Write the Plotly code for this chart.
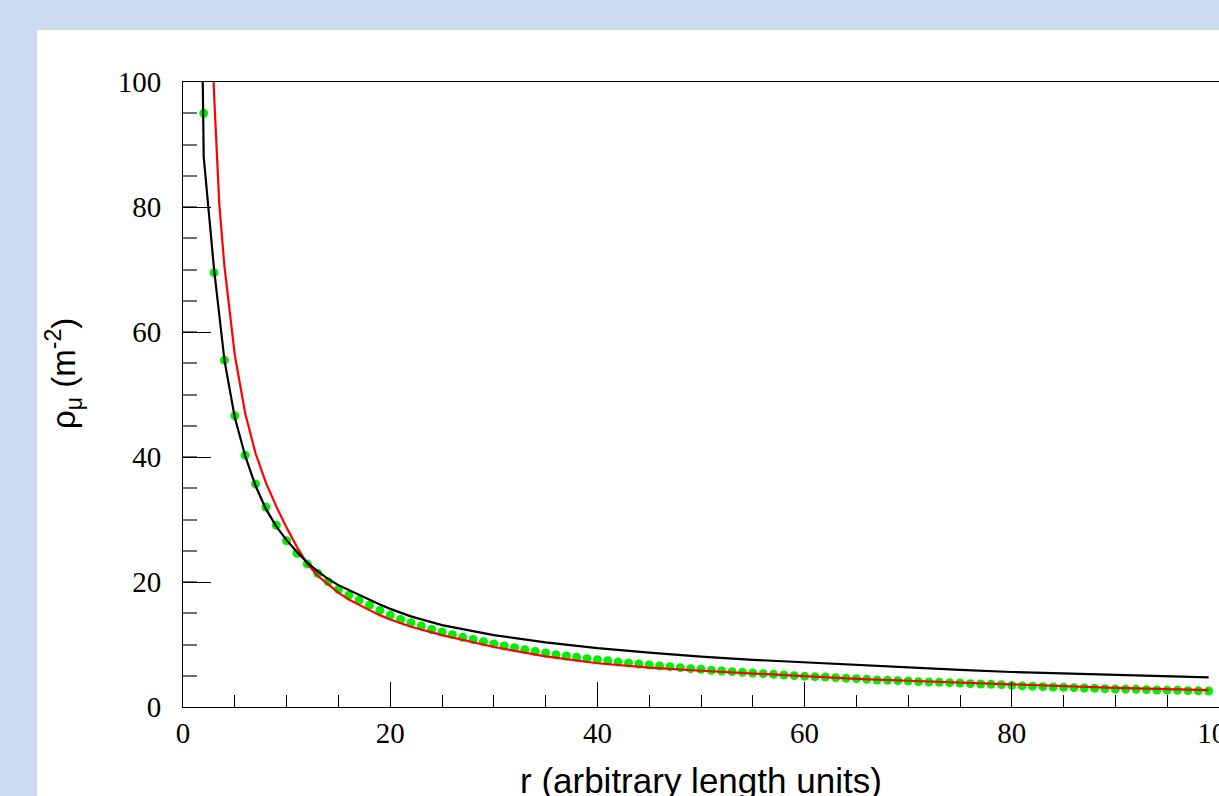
import plotly.graph_objects as go

# ---- data ----
dot_x = list(range(2, 100))
dot_y = [95.0, 69.5, 55.5, 46.6, 40.3, 35.7, 32.0, 29.1, 26.6, 24.6,
         22.9, 21.4, 20.05, 18.8, 17.9, 17.1, 16.3, 15.45, 14.7, 14.0,
         13.5, 12.96, 12.4, 12.0, 11.57, 11.15, 10.8, 10.45, 10.1, 9.76,
         9.49, 9.17, 8.9, 8.64, 8.37, 8.16, 7.95, 7.73, 7.57, 7.4,
         7.22, 7.04, 6.88, 6.72, 6.56, 6.45, 6.29, 6.13, 6.03, 5.87,
         5.76, 5.65, 5.55, 5.44, 5.33, 5.23, 5.12, 5.01, 4.91, 4.85,
         4.8, 4.69, 4.59, 4.53, 4.43, 4.32, 4.27, 4.21, 4.16, 4.05,
         4.0, 3.95, 3.89, 3.84, 3.73, 3.68, 3.63, 3.57, 3.45, 3.38,
         3.31, 3.25, 3.2, 3.15, 3.09, 3.04, 2.99, 2.93, 2.88, 2.85,
         2.83, 2.77, 2.72, 2.70, 2.67, 2.61, 2.59, 2.56]

black_x = [1.9, 2, 3, 4, 5, 6, 7, 8, 9, 10, 11, 12, 13, 14, 15, 16, 17, 18, 19, 20,
           22, 25, 30, 35, 40, 45, 50, 55, 60, 65, 70, 75, 80, 85, 90, 95, 99]
black_y = [101, 88, 70, 55.5, 46.3, 40.2, 35.4, 31.7, 28.9, 26.7, 24.8, 23.1, 21.7,
           20.5, 19.5, 18.7, 17.9, 17.1, 16.4, 15.7, 14.5, 13.1, 11.5, 10.35, 9.43,
           8.7, 8.05, 7.55, 7.15, 6.75, 6.27, 5.95, 5.6, 5.4, 5.2, 5.0, 4.75]

red_x = [2.9, 3, 3.5, 4, 5, 6, 7, 8, 9, 10, 11, 12, 13, 14, 15, 16, 17, 18, 19, 20,
         22, 25, 30, 35, 40, 45, 50, 55, 60, 65, 70, 75, 80, 85, 90, 95, 99]
red_y = [103, 98, 80.5, 70.5, 56.3, 47.0, 40.6, 35.9, 32.1, 28.7, 25.6, 22.9, 21.0,
         19.6, 18.3, 17.2, 16.3, 15.5, 14.7, 14.0, 12.85, 11.5, 9.6, 8.1, 7.0,
         6.3, 5.8, 5.35, 4.85, 4.5, 4.2, 3.9, 3.6, 3.3, 3.05, 2.87, 2.7]

x_ticks = [0, 20, 40, 60, 80, 100]
y_ticks = [0, 20, 40, 60, 80, 100]

x_title = "r (arbitrary length units)"
y_title = "\u03c1<sub>\u03bc</sub> (m<sup>-2</sup>)"

fig = go.Figure()
fig.add_trace(go.Scatter(x=dot_x, y=dot_y, mode="markers",
                         marker=dict(color="#00f000", size=9, line=dict(width=0)),
                         showlegend=False))
fig.add_trace(go.Scatter(x=red_x, y=red_y, mode="lines",
                         line=dict(color="#ff0000", width=2.2), showlegend=False))
fig.add_trace(go.Scatter(x=black_x, y=black_y, mode="lines",
                         line=dict(color="#000000", width=2.2), showlegend=False))

W, H = 1219, 796
ml, mt, mb, mr = 183, 82, 89, 0
pw, ph = W - ml - mr, H - mt - mb

fig.add_shape(type="rect", xref="paper", yref="paper",
              x0=(37 - ml) / pw, x1=1.2,
              y0=-0.3, y1=(H - mb - 30) / ph,
              fillcolor="white", line=dict(width=0), layer="below")

# axis titles placed as annotations (paper coordinates)
fig.add_annotation(text=x_title, xref="paper", yref="paper",
                   x=(701 - ml) / pw, y=(H - mb - 780) / ph,
                   xanchor="center", yanchor="middle", showarrow=False,
                   font=dict(family="Liberation Sans", size=35, color="black"))
fig.add_annotation(text=y_title, xref="paper", yref="paper",
                   x=(64 - ml) / pw, y=(H - mb - 374) / ph,
                   xanchor="center", yanchor="middle", showarrow=False,
                   textangle=-90,
                   font=dict(family="Liberation Sans", size=33, color="black"))

tickfont = dict(family="Liberation Serif", size=29, color="black")
fig.update_layout(
    width=W, height=H, autosize=False,
    margin=dict(l=ml, r=mr, t=mt, b=mb, pad=0, autoexpand=False),
    paper_bgcolor="#ccdcf0",
    plot_bgcolor="white",
    xaxis=dict(range=[0, 100], tickvals=x_ticks, ticktext=[str(v) for v in x_ticks],
               automargin=False,
               ticks="inside", ticklen=25, tickwidth=1, tickcolor="black",
               minor=dict(dtick=5, ticks="inside", ticklen=12, tickcolor="black", tickwidth=1),
               showline=True, linecolor="black", linewidth=1, mirror=True,
               showgrid=False, zeroline=False, tickfont=tickfont,
               ticklabelstandoff=0, ticklabeloverflow="allow"),
    yaxis=dict(range=[0, 100], tickvals=y_ticks, ticktext=[str(v) for v in y_ticks],
               automargin=False,
               ticks="inside", ticklen=28, tickwidth=1, tickcolor="black",
               minor=dict(dtick=5, ticks="inside", ticklen=14, tickcolor="#707070", tickwidth=1.5),
               showline=True, linecolor="black", linewidth=1, mirror=False,
               showgrid=False, zeroline=False, tickfont=tickfont,
               ticklabelstandoff=15, ticklabeloverflow="allow"),
)

fig.write_html("out.html",
               config={"responsive": False, "displayModeBar": False},
               post_script="document.body.style.margin='0';document.body.style.overflow='hidden';")
